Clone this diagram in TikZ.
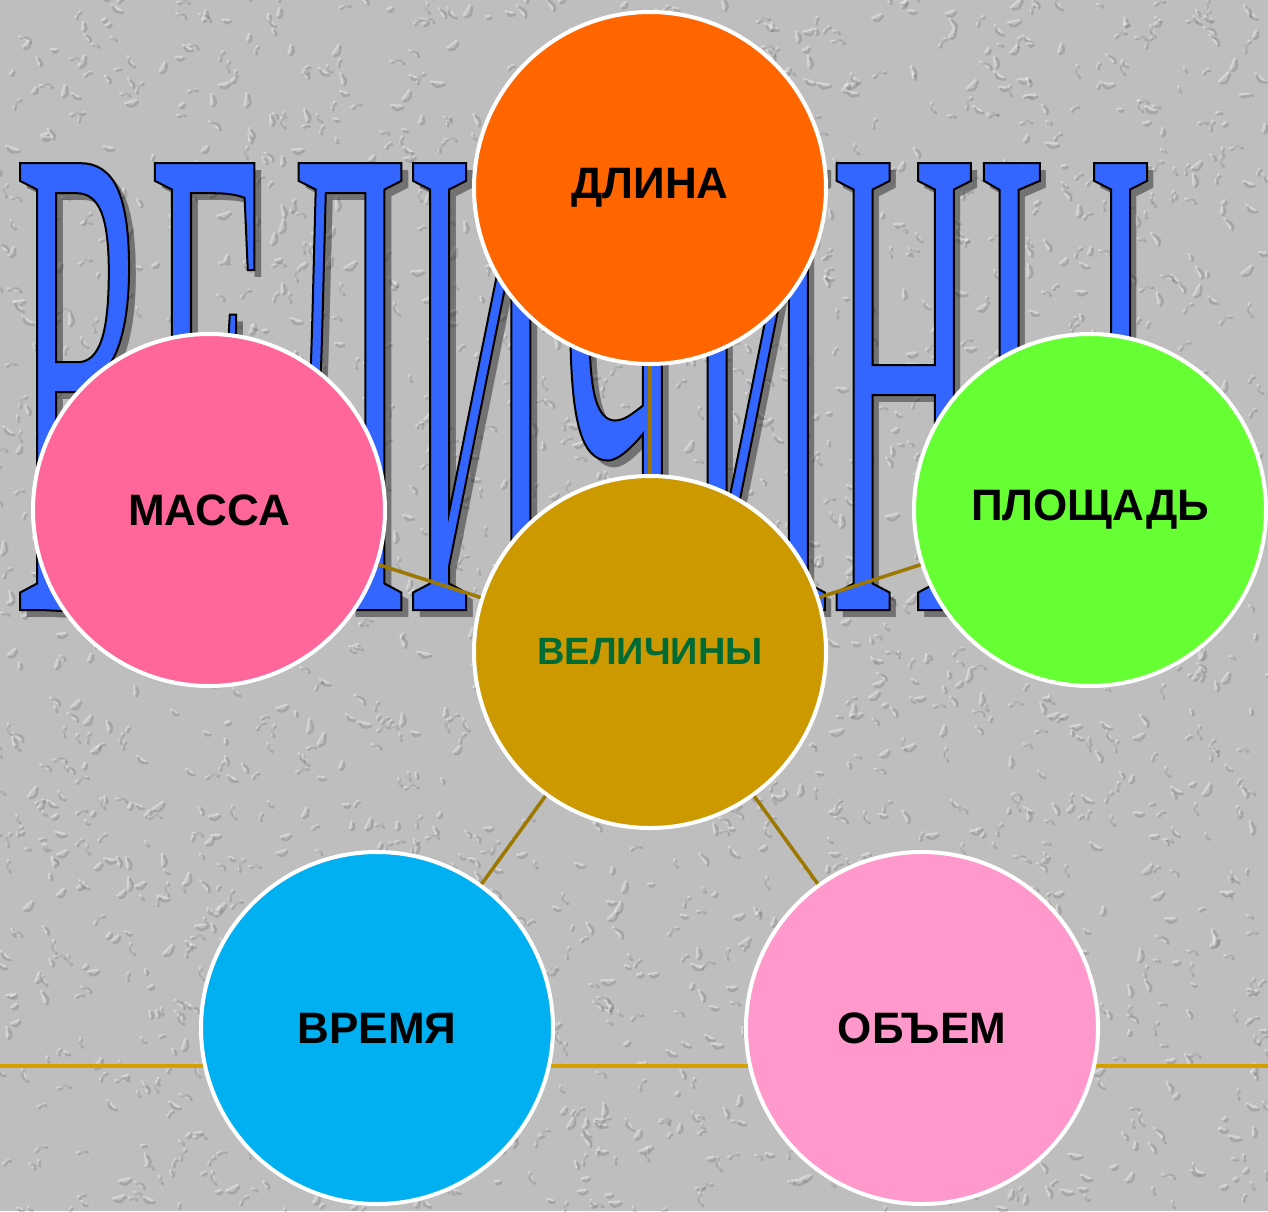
\documentclass[tikz,border=0pt]{standalone}
\usepackage{fontspec}
\usepackage{graphicx}
\newfontfamily\labelfont{Liberation Sans}
\newfontfamily\titlefont{Liberation Serif}[FakeStretch=0.3]

\definecolor{wallgray}{HTML}{BEBEBE}
\definecolor{titleblue}{HTML}{3366FF}
\definecolor{linkgold}{HTML}{9C7800}
\definecolor{rulegold}{HTML}{D4A000}
\definecolor{dlinaorange}{HTML}{FF6600}
\definecolor{massapink}{HTML}{FF6699}
\definecolor{ploshgreen}{HTML}{66FF33}
\definecolor{velgold}{HTML}{CC9900}
\definecolor{velgreen}{HTML}{006B35}
\definecolor{vremyablue}{HTML}{00B0F0}
\definecolor{obempink}{HTML}{FF99CC}

% outlined glyphs: fill and stroke
\newcommand{\outlineon}{\special{pdf:literal direct 0 0 0 RG 2 w 2 Tr}}
\newcommand{\outlineoff}{\special{pdf:literal direct 0 Tr}}
\newcommand{\titleword}{\resizebox{1139pt}{447pt}{\titlefont\fontsize{675}{675}\selectfont ВЕЛИЧИНЫ}}

\tikzset{
  bubble/.style={circle, draw=white, line width=4pt, minimum size=352pt,
    inner sep=0pt, font=\labelfont\bfseries\fontsize{44}{44}\selectfont},
  link/.style={draw=linkgold, line width=3.5pt},
  texdark/.style={draw=black!60, line width=2.6pt, line cap=round, opacity=0.28},
  texlight/.style={draw=white, line width=2.2pt, line cap=round, opacity=0.35},
}

\begin{document}
\begin{tikzpicture}[x=1pt, y=-1pt]
  \useasboundingbox (0,0) rectangle (1268,1211);
  \fill[wallgray] (0,0) rectangle (1268,1211);

  % plaster texture
  \pgfmathsetseed{42}
  \foreach \i in {1,...,2600}{
    \pgfmathsetmacro{\tx}{rnd*1268}
    \pgfmathsetmacro{\ty}{rnd*1211}
    \pgfmathsetmacro{\ta}{rnd*360}
    \pgfmathsetmacro{\tl}{4+rnd*9}
    \draw[texlight] (\tx-2,\ty-2) -- +(\ta:\tl);
    \draw[texdark] (\tx,\ty) .. controls +(\ta+40:\tl/2) .. +(\ta:\tl);
  }

  % big title behind the circles
  \node[anchor=north west, inner sep=0pt, text=black, opacity=0.4] (titleshadow) at (21,170) {\titleword};
  \node[anchor=north west, inner sep=0pt, text=titleblue] (title) at (14,163)
    {\resizebox{1139pt}{447pt}{\titlefont\fontsize{675}{675}\selectfont\outlineon ВЕЛИЧИНЫ\outlineoff}};

  \coordinate (ruleL) at (0,1066);
  \coordinate (ruleR) at (1268,1066);
  \draw[rulegold, line width=3.5pt] (ruleL) -- (ruleR);

  \node[bubble, fill=dlinaorange] (dlina) at (650,188) {ДЛИНА};
  \node[bubble, fill=massapink] (massa) at (209,510) {МАССА};
  \node[bubble, fill=ploshgreen] (plosh) at (1090,510) {ПЛОЩАДЬ};
  \node[bubble, fill=velgold, text=velgreen,
    font=\labelfont\bfseries\fontsize{38}{38}\selectfont] (vel) at (650,652) {ВЕЛИЧИНЫ};
  \node[bubble, fill=vremyablue] (vremya) at (377,1028) {ВРЕМЯ};
  \node[bubble, fill=obempink] (obem) at (922,1028) {ОБЪЕМ};

  \foreach \n in {dlina,massa,plosh,vremya,obem}
    \draw[link] (vel) -- (\n);
\end{tikzpicture}
\end{document}
